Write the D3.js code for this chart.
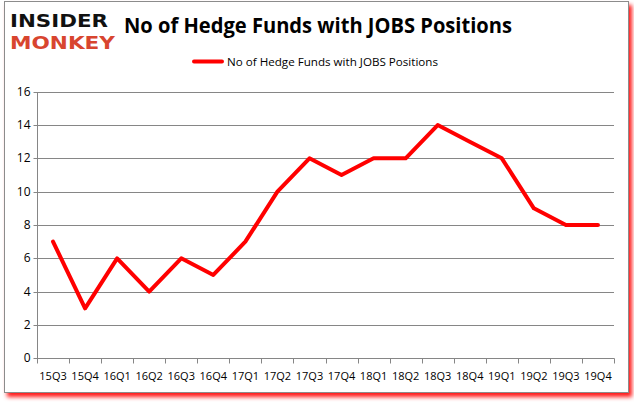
<!DOCTYPE html>
<html><head><meta charset="utf-8">
<script src="https://d3js.org/d3.v7.min.js"></script>
<style>body{margin:0;background:#fff}svg{display:block}</style>
</head><body>
<script>
const categories = ["15Q3","15Q4","16Q1","16Q2","16Q3","16Q4","17Q1","17Q2","17Q3","17Q4","18Q1","18Q2","18Q3","18Q4","19Q1","19Q2","19Q3","19Q4"];
const values = [7,3,6,4,6,5,7,10,12,11,12,12,14,13,12,9,8,8];
const yTicks = [0,2,4,6,8,10,12,14,16];
const seriesName = "No of Hedge Funds with JOBS Positions";
const titleText = "No of Hedge Funds with JOBS Positions";

const W=634,H=404;
const svg=d3.select("body").append("svg").attr("width",W).attr("height",H);
const defs=svg.append("defs");
const f=defs.append("filter").attr("id","sh").attr("x","-5%").attr("y","-5%").attr("width","110%").attr("height","110%");
f.append("feGaussianBlur").attr("in","SourceAlpha").attr("stdDeviation",2).attr("result","b");
f.append("feFlood").attr("flood-color","#ff0000").attr("flood-opacity",0.9);
f.append("feComposite").attr("in2","b").attr("operator","in").attr("result","c");
f.append("feOffset").attr("dx",3).attr("dy",4).attr("result","o");
const m=f.append("feMerge"); m.append("feMergeNode").attr("in","o"); m.append("feMergeNode").attr("in","SourceGraphic");

svg.append("rect").attr("x",4.5).attr("y",1.5).attr("width",624).attr("height",391)
  .attr("fill","#fff").attr("stroke","#8c8c8c").attr("stroke-width",1).attr("filter","url(#sh)");

const x=d3.scaleBand().domain(categories).range([37,614]);
const y=d3.scaleLinear().domain([0,16]).range([358.3,91.7]);

// gridlines
svg.append("g").selectAll("line").data(yTicks.filter(d=>d>0)).join("line")
  .attr("x1",37).attr("x2",614).attr("y1",d=>Math.round(y(d))+0.5).attr("y2",d=>Math.round(y(d))+0.5)
  .attr("stroke","#868686").attr("stroke-width",1);

// y axis
const ya=svg.append("g").attr("transform","translate(37.5,0)")
  .call(d3.axisLeft(y).tickValues(yTicks).tickSize(4).tickPadding(3));
ya.select(".domain").attr("stroke","#868686").attr("d",`M0,${Math.round(y(16))+0.5}V${Math.round(y(0))+0.5}`);
ya.selectAll(".tick line").attr("stroke","#868686");
ya.selectAll(".tick").attr("transform",d=>`translate(0,${Math.round(y(d))+0.5})`);
ya.selectAll("text").attr("font-family","Open Sans, Liberation Sans, sans-serif").attr("font-size",12).attr("fill","#000");

// x axis
const y0=Math.round(y(0))+0.5;
const xa=svg.append("g").attr("transform",`translate(0,${y0})`);
xa.append("line").attr("x1",37).attr("x2",614.5).attr("stroke","#868686");
const bounds=categories.map(c=>x(c)).concat([x.range()[1]]);
xa.selectAll("line.t").data(bounds).join("line").attr("class","t")
  .attr("x1",d=>Math.round(d)+0.5).attr("x2",d=>Math.round(d)+0.5).attr("y1",0).attr("y2",5).attr("stroke","#868686");
xa.selectAll("text").data(categories).join("text")
  .attr("x",d=>x(d)+x.bandwidth()/2).attr("y",21).attr("text-anchor","middle")
  .attr("font-family","Open Sans, Liberation Sans, sans-serif").attr("font-size",11).attr("fill","#000").text(d=>d);

// line
const line=d3.line().x((d,i)=>x(categories[i])+x.bandwidth()/2).y(d=>y(d));
svg.append("path").datum(values).attr("d",line).attr("fill","none").attr("stroke","#ff0000")
  .attr("stroke-width",4).attr("stroke-linejoin","round").attr("stroke-linecap","round");

// title
svg.append("text").attr("x",124).attr("y",33).attr("font-family","Open Sans, Liberation Sans, sans-serif")
  .attr("font-weight","bold").attr("font-size",20.5).attr("textLength",388).attr("lengthAdjust","spacingAndGlyphs").text(titleText);

// legend
svg.append("line").attr("x1",194).attr("x2",222).attr("y1",61.5).attr("y2",61.5).attr("stroke","#ff0000").attr("stroke-width",4).attr("stroke-linecap","round");
svg.append("text").attr("x",227).attr("y",65.5).attr("font-family","Open Sans, Liberation Sans, sans-serif")
  .attr("font-size",11).attr("textLength",211).attr("lengthAdjust","spacingAndGlyphs").text(seriesName);

// logo
svg.append("text").attr("x",10).attr("y",27).attr("font-family","DejaVu Sans, sans-serif").attr("font-weight","bold")
  .attr("font-size",18.5).attr("textLength",98).attr("lengthAdjust","spacingAndGlyphs").attr("fill","#111").text("INSIDER");
svg.append("text").attr("x",10).attr("y",49).attr("font-family","DejaVu Sans, sans-serif").attr("font-weight","bold")
  .attr("font-size",18.5).attr("textLength",105).attr("lengthAdjust","spacingAndGlyphs").attr("fill","#d8452f").text("MONKEY");
</script>
</body></html>
